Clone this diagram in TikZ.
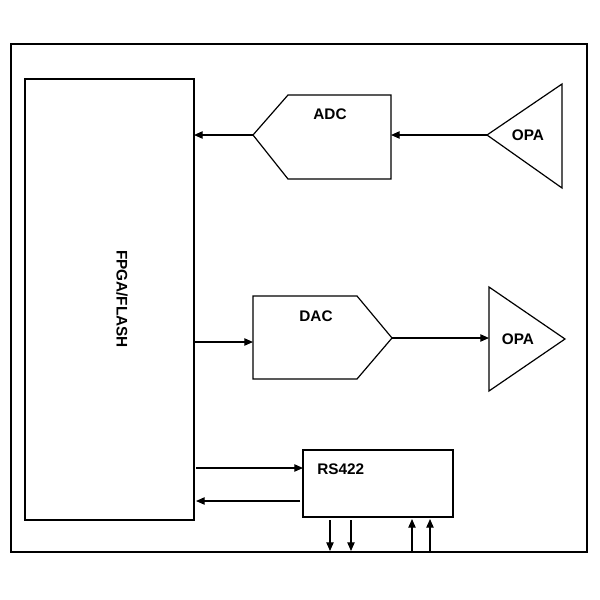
\documentclass[tikz,border=0pt]{standalone}
\usepackage{fontspec}
\setmainfont{Liberation Sans}
\usetikzlibrary{arrows.meta}

\tikzset{
  blk/.style={line width=0.9pt},
  sig/.style={line width=0.9pt,-{Triangle[length=6.5pt,width=5.5pt]}},
  lbl/.style={inner sep=0.75pt,font=\fontsize{11.5}{13}\selectfont\bfseries}
}

\begin{document}
\begin{tikzpicture}[x=0.75pt,y=0.75pt,yscale=-1,xscale=1]
    \useasboundingbox (0,0) rectangle (600,600);

    %Shape: Rectangle (outer frame)
    \draw [blk] (11,44) rectangle (587,552) ;
    %Shape: Rectangle (FPGA)
    \draw [blk] (25,79) rectangle (194,520) ;
    \coordinate (fpga-adc) at (194,135) ;
    \coordinate (fpga-dac) at (194,342) ;
    \coordinate (fpga-tx) at (196,468) ;
    \coordinate (fpga-rx) at (196,501) ;

    %Shape: Pentagon (ADC)
    \draw [blk] (253,135) -- (288,95) -- (391,95) -- (391,179) -- (288,179) -- cycle ;
    \coordinate (adc-out) at (253,135) ;
    \coordinate (adc-in) at (391,135) ;
    %Shape: Triangle (OPA in)
    \draw [blk] (487,135) -- (562,84) -- (562,188) -- cycle ;
    \coordinate (opa1-out) at (487,135) ;

    %Shape: Pentagon (DAC)
    \draw [blk] (253,296) -- (357,296) -- (392,338) -- (357,379) -- (253,379) -- cycle ;
    \coordinate (dac-in) at (253,342) ;
    \coordinate (dac-out) at (392,338) ;
    %Shape: Triangle (OPA out)
    \draw [blk] (489,287) -- (565,339) -- (489,391) -- cycle ;
    \coordinate (opa2-in) at (489,338) ;

    %Shape: Rectangle (RS422)
    \draw [blk] (303,450) rectangle (453,517) ;
    \coordinate (rs-tx) at (303,468) ;
    \coordinate (rs-rx) at (300,501) ;

    %Straight Lines
    \draw [sig] (opa1-out) -- (adc-in) ;
    \draw [sig] (adc-out) -- (fpga-adc) ;
    \draw [sig] (fpga-dac) -- (dac-in) ;
    \draw [sig] (dac-out) -- (opa2-in) ;
    \draw [sig] (fpga-tx) -- (rs-tx) ;
    \draw [sig] (rs-rx) -- (fpga-rx) ;
    %Straight Lines (RS422 bus)
    \foreach \x in {330,351} {
      \draw [sig] (\x,520) -- (\x,551) ;
    }
    \foreach \x in {412,430} {
      \draw [sig] (\x,552) -- (\x,519) ;
    }

    % Text Node
    \draw (122,299) node [lbl,rotate=-90] (fpga) {FPGA/FLASH};
    % Text Node
    \draw (330,114) node [lbl] (adc) {ADC};
    % Text Node
    \draw (528,135) node [lbl] (opa1) {OPA};
    % Text Node
    \draw (316,316) node [lbl] (dac) {DAC};
    % Text Node
    \draw (518,339) node [lbl] (opa2) {OPA};
    % Text Node
    \draw (316,469) node [lbl,anchor=west] (rs) {RS422};
\end{tikzpicture}
\end{document}
